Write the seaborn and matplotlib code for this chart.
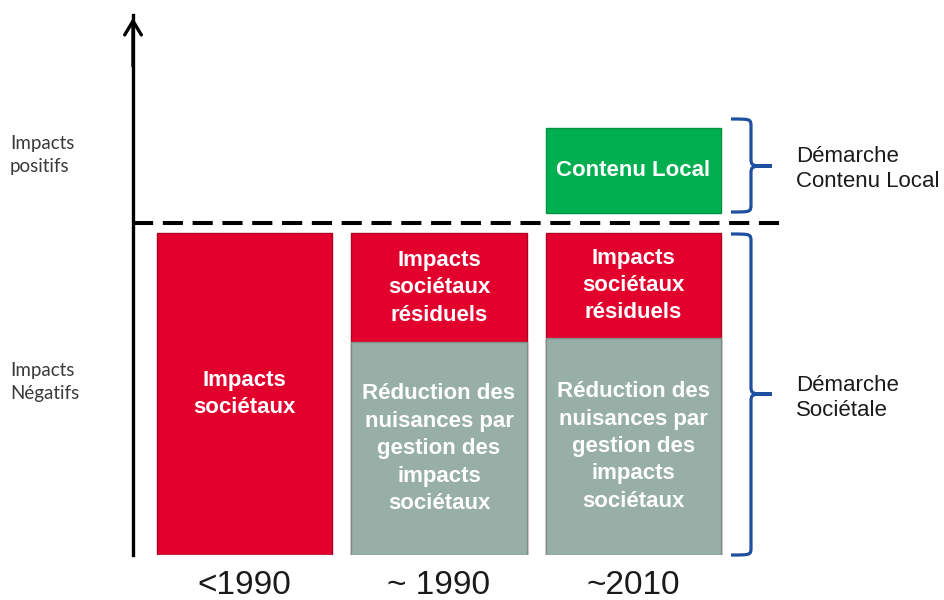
import numpy as np
import seaborn as sns
import matplotlib.pyplot as plt
from matplotlib.path import Path
from matplotlib.patches import PathPatch

# données du schéma (unités arbitraires, 100 = impacts négatifs bruts)
periodes = ["<1990", "~ 1990", "~2010"]
impacts_bruts = [100, 100, 100]
reduction = [0, 66, 67.4]
contenu_local = [0, 0, 26.4]
base_positif = 106.2
seuil = 103
sommet_axe = 167.7

etiq_rouge = ["Impacts\nsociétaux",
              "Impacts\nsociétaux\nrésiduels",
              "Impacts\nsociétaux\nrésiduels"]
etiq_gris = ["",
             "Réduction des\nnuisances par\ngestion des\nimpacts\nsociétaux",
             "Réduction des\nnuisances par\ngestion des\nimpacts\nsociétaux"]
etiq_vert = ["", "", "Contenu Local"]

ROUGE = "#E2002D"
GRIS = "#98AFA8"
VERT = "#00AF50"
BLEU = "#1E4FA0"

sns.set_theme(style="white")
plt.rcParams["font.family"] = ["Liberation Sans", "DejaVu Sans"]

W, H = 944, 600
fig = plt.figure(figsize=(W / 100, H / 100), dpi=100)
ax = fig.add_axes([133 / W, 45 / H, (780 - 133) / W, (555 - 15) / H])


def px(x, y):
    return x / W, 1 - y / H


sns.barplot(x=periodes, y=impacts_bruts, color=ROUGE, saturation=1, width=0.9,
            edgecolor="#B0001F", linewidth=1, ax=ax)
sns.barplot(x=periodes, y=reduction, color=GRIS, saturation=1, width=0.9,
            edgecolor="#7D918B", linewidth=1, ax=ax)
idx = np.arange(len(periodes))
pos = np.array(contenu_local) > 0
ax.bar(idx[pos], np.array(contenu_local)[pos], bottom=base_positif, width=0.9,
       color=VERT, edgecolor="#00923F", linewidth=1)

txt = dict(color="white", fontweight="bold", fontsize=16, ha="center",
           va="center", linespacing=1.4)
for i in idx:
    r = reduction[i]
    ax.text(i, r + (impacts_bruts[i] - r) / 2, etiq_rouge[i], **txt)
    if etiq_gris[i]:
        ax.text(i, r / 2, etiq_gris[i], **txt)
    if etiq_vert[i]:
        ax.text(i, base_positif + contenu_local[i] / 2, etiq_vert[i], **txt)

ax.axhline(seuil, color="black", lw=2.9, dashes=(5, 2.4))

ax.set_xlim(-0.573, 2.753)
ax.set_ylim(0, sommet_axe)
ax.set_yticks([])
ax.set_xlabel("")
ax.set_ylabel("")
ax.tick_params(axis="x", length=0, pad=11, labelsize=24, colors="#1a1a1a")
for s in ["top", "right", "bottom"]:
    ax.spines[s].set_visible(False)
ax.spines["left"].set_color("black")
ax.spines["left"].set_linewidth(2.4)
ax.annotate("", xy=(0, 1.0), xytext=(0, 0.9), xycoords="axes fraction",
            arrowprops=dict(arrowstyle="->,head_length=0.5,head_width=0.3",
                            lw=2.4, color="black", mutation_scale=20),
            annotation_clip=False)

# libellés à gauche
gauche = dict(family=["Lato", "DejaVu Sans"], fontsize=13.5, color="#3a3a3a",
              ha="left", va="center", linespacing=1.45)
fig.text(*px(10, 155), "Impacts\npositifs", **gauche)
fig.text(*px(10, 382), "Impacts\nNégatifs", **gauche)


# accolades et libellés à droite
def accolade(haut, bas, milieu, x0=731, xv=751, xt=772, r=8):
    verts = [px(x0, haut), px(xv, haut), px(xv, haut), px(xv, haut + r),
             px(xv, milieu - r), px(xv, milieu), px(xv, milieu), px(xt, milieu),
             px(xt, milieu), px(xv, milieu), px(xv, milieu), px(xv, milieu + r),
             px(xv, bas - r), px(xv, bas), px(xv, bas), px(x0, bas)]
    codes = [Path.MOVETO, Path.CURVE4, Path.CURVE4, Path.CURVE4,
             Path.LINETO, Path.CURVE4, Path.CURVE4, Path.CURVE4,
             Path.MOVETO, Path.CURVE4, Path.CURVE4, Path.CURVE4,
             Path.LINETO, Path.CURVE4, Path.CURVE4, Path.CURVE4]
    fig.patches.append(PathPatch(Path(verts, codes), fill=False,
                                 edgecolor=BLEU, lw=2.3,
                                 transform=fig.transFigure))


accolade(119, 212, 166)
accolade(234, 555, 394)

droite = dict(fontsize=16, color="#1a1a1a", ha="left", va="center",
              linespacing=1.3)
fig.text(*px(796, 169), "Démarche\nContenu Local", **droite)
fig.text(*px(796, 398), "Démarche\nSociétale", **droite)

fig.savefig("out.png", dpi=100)
